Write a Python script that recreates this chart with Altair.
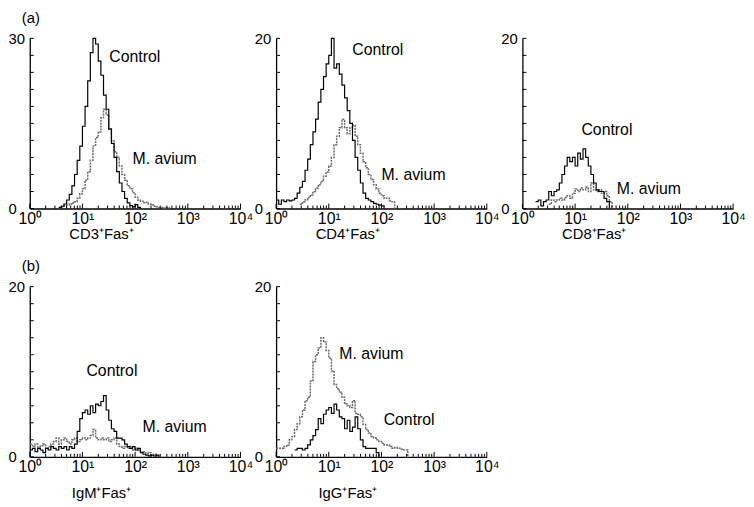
import altair as alt
import pandas as pd

FONT = "Liberation Sans"
BIN = 0.05  # histogram channel width, in decades

# ---- histogram counts (start exponent, counts per 0.05-decade channel)
cd3_ctrl_start = 0.55
cd3_ctrl = [0.2, 0.4, 0.8, 1.5, 2.5, 4.0, 6.0, 8.5, 11.0, 14.5, 18.0, 22.5, 27.5, 30.0, 29.0, 26.0,
            23.5, 20.0, 17.5, 14.0, 11.5, 9.0, 6.5, 4.5, 3.0, 1.8, 1.0, 0.5, 0.3, 0.7, 0.2, 0]
cd3_av_start = 0.60
cd3_av = [0.3, 0.5, 0.6, 0.8, 1.0, 1.2, 1.8, 2.6, 3.5, 5.0, 6.5, 8.5, 11.0, 12.5, 13.5, 16.0, 17.5,
          16.5, 14.0, 12.0, 10.0, 9.0, 7.5, 6.0, 5.0, 4.0, 3.5, 2.8, 2.0, 1.5, 1.3, 1.0, 1.1, 0.8,
          0.6, 0.4, 0.3, 0.2, 0.2, 0.1, 0.2, 0]

cd4_ctrl_start = 0.0
cd4_ctrl = [1.0, 0.5, 1.0, 0.8, 1.0, 0.9, 1.0, 1.2, 1.8, 2.5, 3.2, 4.5, 5.8, 7.5, 9.0, 10.5, 12.5,
            14.0, 15.5, 17.0, 18.0, 20.0, 16.5, 17.0, 15.8, 14.5, 13.0, 11.5, 10.0, 8.0, 6.0, 4.5,
            3.0, 1.8, 1.2, 1.0, 0.8, 0.6, 0.5, 0.4, 0.3, 0]
cd4_av_start = 0.45
cd4_av = [0.5, 0.8, 1.0, 1.3, 1.6, 2.0, 2.4, 2.8, 3.2, 3.8, 4.3, 5.0, 6.0, 7.5, 8.5, 9.5, 10.5, 9.5,
          8.8, 9.5, 9.8, 8.5, 7.5, 6.5, 5.5, 4.8, 4.0, 3.4, 2.8, 2.3, 1.8, 1.5, 1.2, 1.2, 0.9, 0.8, 0]

cd8_ctrl_start = 0.25
cd8_ctrl = [0.8, 1.0, 0.3, 0.8, 1.0, 2.0, 1.5, 2.0, 2.2, 3.0, 4.0, 5.0, 6.0, 5.5, 6.0, 5.0, 6.5, 5.8,
            7.0, 6.0, 5.0, 4.0, 3.0, 2.2, 2.0, 2.0, 1.2, 0.8, 0]
cd8_av_start = 0.50
cd8_av = [0.5, 1.0, 0.8, 1.0, 1.2, 1.0, 1.3, 1.5, 1.2, 1.8, 2.3, 2.0, 2.4, 2.2, 2.5, 2.0, 3.0, 2.2,
          2.0, 2.2, 1.8, 2.0, 1.5, 0.8, 0]

igm_ctrl_start = 0.0
igm_ctrl = [0.8, 1.0, 0.6, 1.0, 0.8, 0.5, 1.0, 0.8, 1.2, 1.0, 0.8, 1.2, 1.0, 1.2, 0.8, 1.2, 1.0, 1.5,
            3.0, 4.5, 5.2, 5.5, 5.0, 6.0, 5.2, 6.2, 6.0, 6.5, 7.2, 5.5, 4.3, 3.3, 3.0, 2.2, 2.2, 2.0,
            1.5, 1.2, 1.0, 1.2, 0.8, 1.0, 0.5, 0.3, 0.2, 0.1, 0.2, 0.1, 0.2, 0]
igm_av_start = 0.0
igm_av = [1.5, 1.2, 1.5, 1.0, 1.3, 1.5, 1.0, 1.2, 1.5, 1.8, 2.2, 1.5, 2.0, 2.2, 1.8, 1.5, 2.0, 2.2,
          1.8, 2.0, 2.2, 2.0, 2.2, 2.5, 3.2, 2.2, 2.0, 2.2, 2.0, 2.2, 1.8, 2.0, 2.2, 1.5, 1.2, 1.0,
          1.2, 1.0, 1.2, 0.8, 1.0, 0.8, 0.5, 0.6, 0.4, 0.5, 0.2, 0.3, 0.1, 0]

igg_ctrl_start = 0.35
igg_ctrl = [0.8, 1.0, 1.0, 0.8, 1.0, 1.4, 2.0, 2.5, 3.2, 4.5, 3.9, 5.0, 5.5, 5.8, 5.1, 6.2, 5.5, 4.7,
            4.5, 3.3, 4.3, 3.0, 3.5, 4.7, 3.3, 2.0, 1.2, 1.0, 1.0, 1.0, 1.0, 0.5, 0]
igg_av_start = 0.0
igg_av = [1.0, 1.0, 1.0, 1.2, 1.4, 2.0, 2.4, 3.2, 3.9, 4.7, 5.5, 6.6, 7.0, 8.9, 11.2, 12.0, 12.8,
          14.0, 13.5, 12.5, 11.6, 10.1, 8.5, 8.0, 7.6, 7.0, 6.2, 6.0, 5.8, 6.6, 5.1, 5.0, 4.7, 3.8,
          3.2, 2.8, 2.4, 2.2, 2.0, 1.8, 1.6, 1.4, 1.4, 1.2, 1.0, 1.1, 1.0, 0.9, 0.8, 0.8, 0]

# ---- axis titles, y maxima and annotation texts (label, x value, y value)
titles = ["CD3⁺Fas⁺", "CD4⁺Fas⁺", "CD8⁺Fas⁺", "IgM⁺Fas⁺", "IgG⁺Fas⁺"]
ymax = [30, 20, 20, 20, 20]
ystep = [3, 2, 2, 2, 2]
notes = [
    [("Control", 32.4, 26.7), ("M. avium", 89.1, 8.7)],
    [("Control", 27.9, 18.6), ("M. avium", 100.0, 3.9)],
    [("Control", 13.2, 9.2), ("M. avium", 61.7, 2.25)],
    [("Control", 11.9, 10.1), ("M. avium", 138.0, 3.45)],
    [("M. avium", 15.8, 12.1), ("Control", 110.0, 4.3)],
]
letters = ["(a)", None, None, "(b)", None]
decades = [1, 10, 100, 1000, 10000]
minor = [m * d for d in [1, 10, 100, 1000] for m in range(2, 10)]

W, H = 213, 172


def series_df(start, counts):
    return pd.DataFrame({"x": [10 ** (start + i * BIN) for i in range(len(counts))], "n": counts})


def panel(ctrl_start, ctrl, av_start, av, i, title_y):
    xs = alt.Scale(type="log", domain=[1, 10000])
    ys = alt.Scale(domain=[0, ymax[i]], nice=False, zero=True)
    xaxis = alt.Axis(values=decades, ticks=False, tickSize=0, grid=False, title=titles[i],
                     labelExpr="'10' + ['⁰','¹','²','³','⁴'][round(log(datum.value)/LN10)]",
                     labelFlush=False, labelPadding=2, labelFontSize=16,
                     titleFontSize=15, titleFontWeight="normal", titleX=72, titleY=title_y,
                     titleAlign="center", titleBaseline="middle", titleAnchor="start")
    yaxis = alt.Axis(values=[0, ymax[i]], ticks=False, tickSize=0, grid=False, title=None,
                     labelAlign="left", labelPadding=22, labelFontSize=15)
    X = alt.X("x:Q", scale=xs, axis=xaxis)
    Y = alt.Y("n:Q", scale=ys, axis=yaxis)
    av_line = alt.Chart(series_df(av_start, av)).mark_line(
        interpolate="step-after", color="#6a6a6a", strokeWidth=1.5, strokeDash=[2, 1]
    ).encode(x=X, y=Y)
    ctrl_line = alt.Chart(series_df(ctrl_start, ctrl)).mark_line(
        interpolate="step-after", color="black", strokeWidth=1.2
    ).encode(x=X, y=Y)
    ytk = alt.Chart(pd.DataFrame({"n": list(range(0, ymax[i] + 1, ystep[i]))})).mark_rule(
        color="black", strokeWidth=1
    ).encode(y=Y, x=alt.value(0), x2=alt.value(4))
    xmaj = alt.Chart(pd.DataFrame({"x": decades})).mark_rule(color="black", strokeWidth=1).encode(
        x=X, y=alt.value(H), y2=alt.value(H - 5))
    xmin = alt.Chart(pd.DataFrame({"x": minor})).mark_rule(color="black", strokeWidth=1).encode(
        x=X, y=alt.value(H), y2=alt.value(H - 3))
    nd = pd.DataFrame(notes[i], columns=["label", "x", "n"])
    txt = alt.Chart(nd).mark_text(align="left", baseline="middle", fontSize=16, color="black").encode(
        x=X, y=Y, text="label:N")
    layers = [av_line, ctrl_line, ytk, xmaj, xmin, txt]
    if letters[i]:
        lt = alt.Chart(pd.DataFrame({"t": [letters[i]]})).mark_text(
            align="left", baseline="middle", fontSize=15, color="black"
        ).encode(x=alt.value(-8), y=alt.value(-21), text="t:N")
        layers.append(lt)
    return alt.layer(*layers).properties(width=W, height=H)


p1 = panel(cd3_ctrl_start, cd3_ctrl, cd3_av_start, cd3_av, 0, 25)
p2 = panel(cd4_ctrl_start, cd4_ctrl, cd4_av_start, cd4_av, 1, 25)
p3 = panel(cd8_ctrl_start, cd8_ctrl, cd8_av_start, cd8_av, 2, 25)
p4 = panel(igm_ctrl_start, igm_ctrl, igm_av_start, igm_av, 3, 36)
p5 = panel(igg_ctrl_start, igg_ctrl, igg_av_start, igg_av, 4, 36)

chart = alt.concat(
    p1, p2, p3, p4, p5, columns=3, spacing={"row": 79, "column": 36}, bounds="flush"
).properties(padding=0).configure(font=FONT).configure_view(stroke=None).configure_axis(
    domainColor="black", domainWidth=1.3, labelColor="black", titleColor="black",
    labelFont=FONT, titleFont=FONT
)

chart.save("out.html", embed_options={"renderer": "svg", "actions": False})
